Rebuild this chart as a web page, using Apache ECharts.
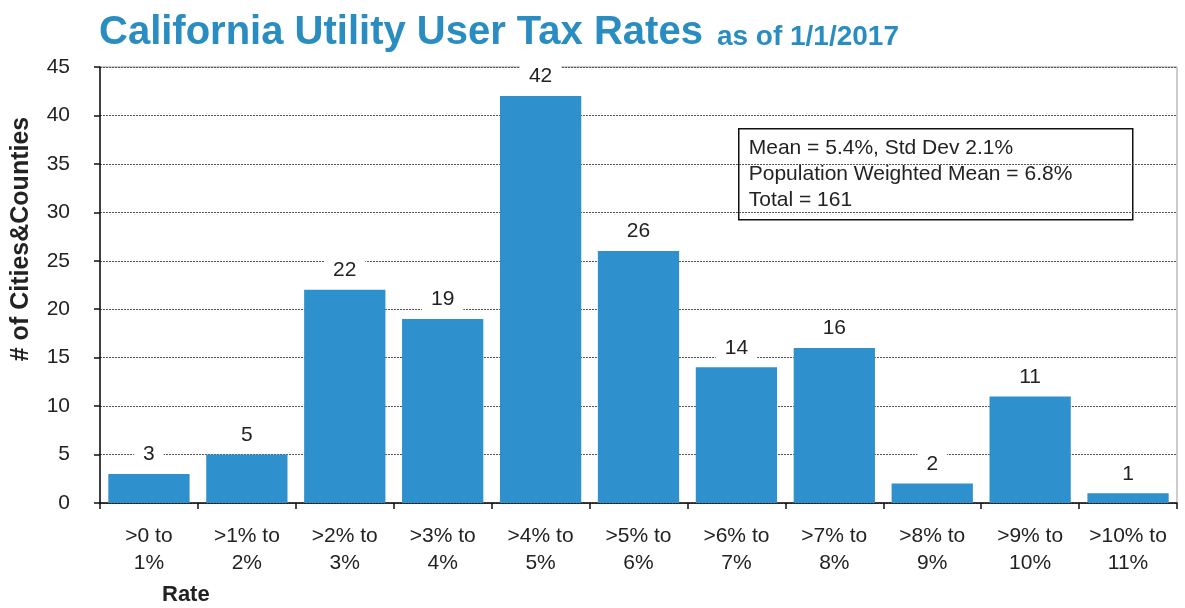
<!DOCTYPE html>
<html>
<head>
<meta charset="utf-8">
<title>California Utility User Tax Rates</title>
<script src="https://cdn.jsdelivr.net/npm/echarts@6/dist/echarts.min.js"></script>
<style>
  html, body { margin: 0; padding: 0; background: #fff; }
  #chart { width: 1185px; height: 608px; }
</style>
</head>
<body>
<div id="chart"></div>
<script>
// rate buckets (x axis)
var categories = ['>0 to\n1%', '>1% to\n2%', '>2% to\n3%', '>3% to\n4%', '>4% to\n5%', '>5% to\n6%',
  '>6% to\n7%', '>7% to\n8%', '>8% to\n9%', '>9% to\n10%', '>10% to\n11%']
// number of cities & counties per bucket
var counts = [3, 5, 22, 19, 42, 26, 14, 16, 2, 11, 1]
var statLines = ['Mean = 5.4%, Std Dev 2.1%', 'Population Weighted Mean = 6.8%', 'Total = 161']

var chart = echarts.init(document.getElementById('chart'))

var option = {
  backgroundColor: '#fff',
  animation: false,
  title: {
    left: 94,
    top: 8,
    text: '{a|California Utility User Tax Rates}{b|as of 1/1/2017}',
    textStyle: {
      rich: {
        a: { fontFamily: 'Liberation Sans', fontWeight: 'bold', fontSize: 40, color: '#2a8dc1' },
        b: { fontFamily: 'Liberation Sans', fontWeight: 'bold', fontSize: 28, color: '#2a8dc1', padding: [8, 0, 0, 14] }
      }
    }
  },
  grid: {
    left: 100,
    right: 8,
    top: 67,
    bottom: 105,
    show: true,
    borderColor: '#999',
    borderWidth: 1
  },
  xAxis: {
    type: 'category',
    data: categories,
    axisLine: { lineStyle: { color: '#111', width: 1.5 } },
    axisTick: { show: true, length: 6, lineStyle: { color: '#111', width: 1.5 } },
    axisLabel: {
      interval: 0,
      margin: 20,
      fontFamily: 'Liberation Sans',
      fontSize: 21,
      lineHeight: 27,
      color: '#222'
    }
  },
  yAxis: {
    type: 'value',
    min: 0,
    max: 45,
    interval: 5,
    axisLine: { show: true, lineStyle: { color: '#111', width: 1.5 } },
    axisTick: { show: true, length: 6, lineStyle: { color: '#111', width: 1.5 } },
    axisLabel: { margin: 30, fontFamily: 'Liberation Sans', fontSize: 21, color: '#222' },
    splitLine: { lineStyle: { color: '#555', type: [2, 1], width: 1 } }
  },
  series: [{
    type: 'bar',
    data: counts,
    barCategoryGap: '17%',
    itemStyle: { color: '#2e90cc' },
    label: {
      show: true,
      position: 'top',
      distance: 9,
      fontFamily: 'Liberation Sans',
      fontSize: 21,
      color: '#222',
      backgroundColor: '#fff',
      padding: [0, 9]
    }
  }],
  graphic: [
    {
      type: 'group',
      left: 738,
      top: 128,
      children: [
        {
          type: 'rect',
          shape: { x: 0, y: 0, width: 394, height: 91 },
          style: { fill: '#fff', stroke: '#111', lineWidth: 1.5 }
        },
        {
          type: 'text',
          left: 10,
          top: 6,
          style: {
            text: statLines.join('\n'),
            font: '21px "Liberation Sans"',
            lineHeight: 26,
            fill: '#222'
          }
        }
      ]
    },
    {
      type: 'text',
      x: 21,
      y: 239,
      rotation: Math.PI / 2,
      style: {
        text: '# of Cities&Counties',
        font: 'bold 25px "Liberation Sans"',
        fill: '#222',
        align: 'center',
        verticalAlign: 'middle'
      }
    },
    {
      type: 'text',
      left: 162,
      top: 584,
      style: { text: 'Rate', font: 'bold 22px "Liberation Sans"', fill: '#222' }
    }
  ]
}

chart.setOption(option)
</script>
</body>
</html>
